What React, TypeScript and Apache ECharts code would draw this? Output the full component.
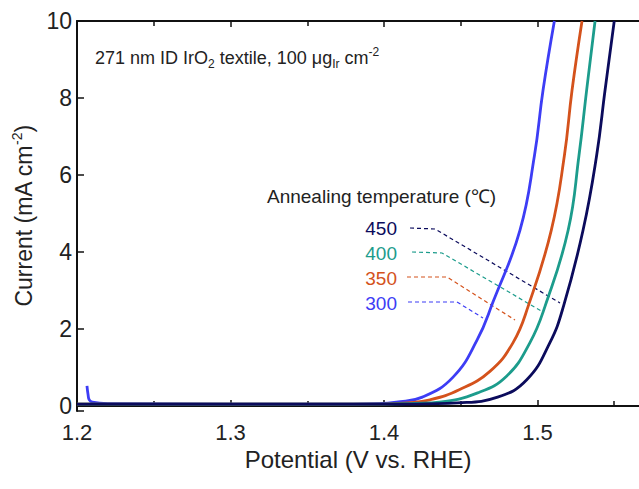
import React, { useEffect, useRef } from "react";
import * as echarts from "echarts";

const xTicks = [1.2, 1.3, 1.4, 1.5];
const xMax = 1.6;
const yTicks = [0, 2, 4, 6, 8, 10];

const v300 = [1.2065, 1.2072, 1.208, 1.21, 1.22, 1.3, 1.38, 1.397, 1.408, 1.425, 1.445, 1.4606, 1.471, 1.4886, 1.498, 1.5036, 1.511];
const j300 = [0.52, 0.3, 0.16, 0.1, 0.06, 0.05, 0.05, 0.06, 0.1, 0.23, 0.75, 1.71, 2.7, 4.57, 6.5, 8.2, 10];

const v350 = [1.2, 1.3, 1.4, 1.415, 1.43, 1.449, 1.469, 1.484, 1.494, 1.509, 1.5175, 1.5225, 1.529];
const j350 = [0.05, 0.05, 0.05, 0.08, 0.16, 0.42, 0.9, 1.64, 2.6, 4.57, 6.5, 8.2, 10];

const v400 = [1.2, 1.3, 1.4, 1.42, 1.436, 1.461, 1.48, 1.495, 1.505, 1.52, 1.527, 1.532, 1.5375];
const j400 = [0.05, 0.05, 0.05, 0.07, 0.1, 0.34, 0.78, 1.64, 2.6, 4.57, 6.5, 8.2, 10];

const v450 = [1.2, 1.3, 1.42, 1.448, 1.474, 1.493, 1.508, 1.517, 1.5297, 1.5385, 1.544, 1.55];
const j450 = [0.05, 0.05, 0.05, 0.08, 0.23, 0.68, 1.64, 2.6, 4.57, 6.5, 8.2, 10];

const seriesNames = ["300", "350", "400", "450"];
const seriesColors = ["#3d3df5", "#d4521c", "#1c9c8c", "#0b0b5c"];

const zip = (a: number[], b: number[]) => a.map((v, i) => [v, b[i]]);

export default function App() {
  const ref = useRef<HTMLDivElement>(null);
  useEffect(() => {
    const chart = echarts.init(ref.current!, null, { renderer: "svg" });
    const font = "Liberation Sans, Arial, sans-serif";
    const datas = [zip(v300, j300), zip(v350, j350), zip(v400, j400), zip(v450, j450)];
    const axisCommon = {
      type: "value" as const,
      min: xTicks[0],
      max: xMax,
      interval: 0.1,
      axisLine: { lineStyle: { color: "#111", width: 2 } },
      axisTick: { inside: true, length: 6, lineStyle: { color: "#111", width: 1.5 } },
      minorTick: { show: true, splitNumber: 2, length: 5, lineStyle: { color: "#111", width: 1.5 } },
      splitLine: { show: false },
    };
    const leaders = [
      { c: seriesColors[3], pts: [[410, 228], [435, 229], [560, 303]] },
      { c: seriesColors[2], pts: [[412, 252], [442, 253], [543, 312]] },
      { c: seriesColors[1], pts: [[407, 277], [447, 277], [515, 320]] },
      { c: seriesColors[0], pts: [[408, 302], [457, 302], [483, 318]] },
    ];
    chart.setOption({
      animation: false,
      grid: { left: 77, top: 21, width: 614, height: 390, outerBoundsMode: "none", containLabel: false },
      xAxis: [
        {
          ...axisCommon,
          position: "bottom",
          axisLabel: {
            margin: 10,
            fontSize: 22,
            color: "#222",
            fontFamily: font,
            formatter: (v: number) => (xTicks.some((t) => Math.abs(t - v) < 1e-6) ? v.toFixed(1) : ""),
          },
        },
        { ...axisCommon, position: "top", axisLabel: { show: false } },
      ],
      yAxis: {
        type: "value",
        min: -0.13,
        max: yTicks[yTicks.length - 1],
        splitNumber: 5,
        axisLine: { lineStyle: { color: "#111", width: 2 } },
        axisTick: { inside: true, length: 7, lineStyle: { color: "#111", width: 1.5 } },
        splitLine: { show: false },
        axisLabel: {
          margin: 5,
          fontSize: 23,
          color: "#222",
          fontFamily: font,
          formatter: (v: number) => (yTicks.some((t) => Math.abs(t - v) < 1e-6) ? String(Math.round(Math.abs(v))) : ""),
        },
        name: "Current (mA cm{sup|-2})",
        nameLocation: "middle",
        nameGap: 27,
        nameTextStyle: {
          fontSize: 23,
          color: "#222",
          fontFamily: font,
          rich: { sup: { fontSize: 14, color: "#222", fontFamily: font, verticalAlign: "top", padding: [0, 0, 14, 0] } },
        },
      },
      series: datas.map((d, i) => ({
        type: "line",
        name: seriesNames[i],
        data: d,
        showSymbol: false,
        smooth: 0.45,
        lineStyle: { color: seriesColors[i], width: 2.8 },
        z: 2 + i,
      })),
      graphic: [
        {
          type: "text",
          x: 358,
          y: 459,
          style: { text: "Potential (V vs. RHE)", font: `24px ${font}`, fill: "#222", align: "center", verticalAlign: "middle" },
        },
        {
          type: "text",
          x: 95,
          y: 58,
          style: {
            text: "271 nm ID IrO{sub|2} textile, 100 μg{sub|Ir} cm{sup|-2}",
            font: `18px ${font}`,
            fill: "#222",
            verticalAlign: "middle",
            rich: {
              sub: { fontSize: 12, fill: "#222", fontFamily: font, padding: [12, 0, 0, 0] },
              sup: { fontSize: 12, fill: "#222", fontFamily: font, padding: [0, 0, 12, 0] },
            },
          },
        },
        {
          type: "text",
          x: 267,
          y: 196,
          style: { text: "Annealing temperature (℃)", font: `19px ${font}`, fill: "#222", verticalAlign: "middle" },
        },
        ...seriesNames
          .slice()
          .reverse()
          .map((n, k) => ({
            type: "text",
            x: 397,
            y: 228 + k * 25,
            style: { text: n, font: `19px ${font}`, fill: seriesColors[3 - k], align: "right", verticalAlign: "middle" },
          })),
        ...leaders.map((l) => ({
          type: "polyline",
          shape: { points: l.pts },
          style: { stroke: l.c, lineWidth: 1.2, lineDash: [4, 3], fill: "none" },
        })),
      ],
    });
    return () => chart.dispose();
  }, []);
  return <div ref={ref} style={{ width: 639, height: 489, position: "absolute", left: 0, top: 0 }} />;
}
